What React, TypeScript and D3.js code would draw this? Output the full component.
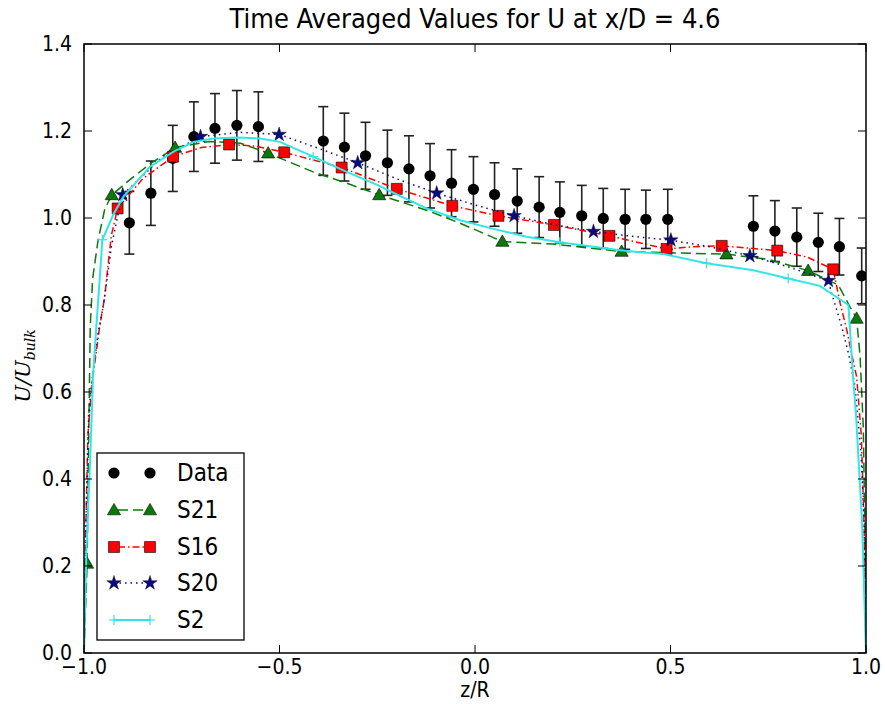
import React from "react";
import * as d3 from "d3";

const W = 885;
const H = 704;

// Experimental data
const dataZ = [-0.884, -0.829, -0.773, -0.719, -0.665, -0.609, -0.554, -0.388, -0.334, -0.280, -0.224, -0.169, -0.115, -0.060, -0.004, 0.050, 0.108, 0.164, 0.217, 0.273, 0.328, 0.384, 0.437, 0.493, 0.712, 0.767, 0.823, 0.878, 0.932, 0.989];
const dataU = [0.989, 1.057, 1.137, 1.187, 1.206, 1.213, 1.210, 1.177, 1.163, 1.143, 1.127, 1.113, 1.097, 1.080, 1.066, 1.054, 1.039, 1.025, 1.013, 1.005, 0.999, 0.997, 0.997, 0.997, 0.981, 0.970, 0.956, 0.944, 0.934, 0.867];
const dataErr = [0.072, 0.074, 0.076, 0.080, 0.080, 0.080, 0.080, 0.079, 0.078, 0.077, 0.075, 0.076, 0.074, 0.077, 0.075, 0.073, 0.074, 0.070, 0.070, 0.070, 0.069, 0.069, 0.067, 0.069, 0.070, 0.070, 0.067, 0.067, 0.065, 0.064];

// S21 (green dashed, triangles)
const s21Line: [number, number][] = [[-1, 0], [-0.992, 0.206], [-0.988, 0.5], [-0.984, 0.75], [-0.978, 0.86], [-0.964, 0.949], [-0.947, 1.02], [-0.929, 1.053], [-0.88, 1.09], [-0.83, 1.125], [-0.767, 1.162], [-0.68, 1.176], [-0.6, 1.172], [-0.529, 1.149], [-0.414, 1.106], [-0.328, 1.08], [-0.245, 1.053], [-0.124, 1.018], [-0.038, 0.988], [0.07, 0.946], [0.2, 0.94], [0.375, 0.923], [0.5, 0.92], [0.643, 0.917], [0.75, 0.905], [0.852, 0.879], [0.929, 0.846], [0.959, 0.796], [0.976, 0.769], [0.985, 0.68], [0.993, 0.52], [0.997, 0.3], [1, 0]];
const s21Markers: [number, number][] = [[-0.992, 0.206], [-0.929, 1.053], [-0.767, 1.162], [-0.529, 1.149], [-0.245, 1.053], [0.07, 0.946], [0.375, 0.923], [0.643, 0.917], [0.852, 0.879], [0.976, 0.769]];

// S16 (red dash-dot, squares)
const s16Line: [number, number][] = [[-1, 0], [-0.995, 0.3], [-0.99, 0.5], [-0.98, 0.62], [-0.969, 0.689], [-0.96, 0.75], [-0.947, 0.819], [-0.939, 0.888], [-0.93, 0.96], [-0.914, 1.022], [-0.85, 1.09], [-0.772, 1.141], [-0.7, 1.162], [-0.629, 1.169], [-0.56, 1.165], [-0.488, 1.151], [-0.341, 1.116], [-0.2, 1.067], [-0.058, 1.028], [0.06, 1.005], [0.202, 0.984], [0.344, 0.959], [0.42, 0.943], [0.49, 0.929], [0.56, 0.934], [0.631, 0.936], [0.773, 0.925], [0.85, 0.91], [0.916, 0.882], [0.934, 0.804], [0.951, 0.742], [0.963, 0.689], [0.976, 0.635], [0.988, 0.5], [0.995, 0.3], [1, 0]];
const s16Markers: [number, number][] = [[-0.914, 1.022], [-0.772, 1.141], [-0.629, 1.169], [-0.488, 1.151], [-0.341, 1.116], [-0.2, 1.067], [-0.058, 1.028], [0.06, 1.005], [0.202, 0.984], [0.344, 0.959], [0.49, 0.929], [0.631, 0.936], [0.773, 0.925], [0.916, 0.882]];

// S20 (navy dotted, stars)
const s20Line: [number, number][] = [[-1, 0], [-0.995, 0.3], [-0.988, 0.55], [-0.978, 0.64], [-0.964, 0.735], [-0.951, 0.796], [-0.939, 0.873], [-0.93, 0.934], [-0.915, 1.0], [-0.901, 1.053], [-0.8, 1.14], [-0.702, 1.187], [-0.6, 1.197], [-0.501, 1.192], [-0.4, 1.16], [-0.3, 1.127], [-0.2, 1.09], [-0.098, 1.057], [0.0, 1.03], [0.1, 1.005], [0.2, 0.985], [0.303, 0.969], [0.4, 0.958], [0.501, 0.949], [0.6, 0.934], [0.703, 0.913], [0.8, 0.888], [0.904, 0.856], [0.912, 0.827], [0.925, 0.789], [0.938, 0.75], [0.955, 0.689], [0.972, 0.612], [0.988, 0.45], [0.995, 0.3], [1, 0]];
const s20Markers: [number, number][] = [[-0.901, 1.053], [-0.702, 1.187], [-0.501, 1.192], [-0.3, 1.127], [-0.098, 1.057], [0.1, 1.005], [0.303, 0.969], [0.501, 0.949], [0.703, 0.913], [0.904, 0.856]];

// S2 (cyan solid, plus)
const s2Line: [number, number][] = [[-1, 0], [-0.994, 0.229], [-0.984, 0.45], [-0.977, 0.635], [-0.969, 0.743], [-0.96, 0.857], [-0.953, 0.95], [-0.925, 1.008], [-0.899, 1.049], [-0.831, 1.118], [-0.772, 1.152], [-0.72, 1.175], [-0.669, 1.183], [-0.609, 1.185], [-0.55, 1.183], [-0.499, 1.175], [-0.414, 1.141], [-0.328, 1.106], [-0.247, 1.075], [-0.209, 1.058], [-0.124, 1.022], [-0.038, 0.995], [0.047, 0.975], [0.132, 0.957], [0.217, 0.944], [0.303, 0.934], [0.371, 0.926], [0.422, 0.921], [0.482, 0.917], [0.592, 0.896], [0.712, 0.88], [0.801, 0.861], [0.882, 0.844], [0.955, 0.8], [0.965, 0.66], [0.975, 0.54], [0.99, 0.3], [1, 0]];
const s2Markers: [number, number][] = [[-0.953, 0.95], [-0.414, 1.141], [0.217, 0.944], [0.592, 0.896], [0.801, 0.861]];

const xTicks = [-1.0, -0.5, 0.0, 0.5, 1.0];
const yTicks = [0.0, 0.2, 0.4, 0.6, 0.8, 1.0, 1.2, 1.4];
const legendLabels = ["Data", "S21", "S16", "S20", "S2"];

const FONT = '"DejaVu Sans Condensed", "DejaVu Sans", sans-serif';

const C_GREEN = "#0a7a0a";
const C_RED = "#ff0000";
const C_NAVY = "#0a0a80";
const C_CYAN = "#30e6e6";

const L = 84, R = 866, T = 44, B = 653;

export default function App() {
  const x = d3.scaleLinear().domain([-1, 1]).range([L, R]);
  const y = d3.scaleLinear().domain([0, 1.4]).range([B, T]);
  const line = d3.line<[number, number]>().x((d) => x(d[0])).y((d) => y(d[1]));

  const tri = d3.symbol().type(d3.symbolTriangle).size(75)()!;
  const sq = d3.symbol().type(d3.symbolSquare).size(120)()!;
  const star = d3.symbol().type(d3.symbolStar).size(65)()!;

  const tick = 8;
  const fmt = d3.format(".1f");

  const legendRows = [473, 510, 547, 583, 620];
  const lx1 = 114, lx2 = 150;

  const plus = (cx: number, cy: number, key: string | number) => (
    <g key={key} stroke={C_CYAN} strokeWidth={1.2}>
      <line x1={cx - 5} x2={cx + 5} y1={cy} y2={cy} />
      <line x1={cx} x2={cx} y1={cy - 5} y2={cy + 5} />
    </g>
  );

  return (
    <div style={{ position: "absolute", left: 0, top: 0 }}>
      <svg width={W} height={H} style={{ display: "block", background: "#fff" }}>
        <defs>
          <clipPath id="plotclip">
            <rect x={L} y={T} width={R - L} height={B - T} />
          </clipPath>
        </defs>
        <rect x={0} y={0} width={W} height={H} fill="#fff" />

        <g clipPath="url(#plotclip)">
          {/* Error bars */}
          {dataZ.map((z, i) => {
            const cx = x(z);
            const y1 = y(dataU[i] + dataErr[i]);
            const y2 = y(dataU[i] - dataErr[i]);
            return (
              <g key={"e" + i} stroke="#222" strokeWidth={1.6}>
                <line x1={cx} x2={cx} y1={y1} y2={y2} />
                <line x1={cx - 5} x2={cx + 5} y1={y1} y2={y1} />
                <line x1={cx - 5} x2={cx + 5} y1={y2} y2={y2} />
              </g>
            );
          })}
          {dataZ.map((z, i) => (
            <circle key={"d" + i} cx={x(z)} cy={y(dataU[i])} r={5.6} fill="#000" />
          ))}

          {/* S21 */}
          <path d={line(s21Line)!} fill="none" stroke={C_GREEN} strokeWidth={1.5} strokeDasharray="10,5" />
          {s21Markers.map((p, i) => (
            <path key={"t" + i} d={tri} transform={`translate(${x(p[0])},${y(p[1]) + 1})`} fill={C_GREEN} stroke="#000" strokeWidth={0.6} />
          ))}

          {/* S16 */}
          <path d={line(s16Line)!} fill="none" stroke={C_RED} strokeWidth={1.5} strokeDasharray="7,3,1.5,3" />
          {s16Markers.map((p, i) => (
            <path key={"s" + i} d={sq} transform={`translate(${x(p[0])},${y(p[1])})`} fill={C_RED} stroke="#000" strokeWidth={0.6} />
          ))}

          {/* S20 */}
          <path d={line(s20Line)!} fill="none" stroke={C_NAVY} strokeWidth={1.5} strokeDasharray="1.5,4" />
          {s20Markers.map((p, i) => (
            <path key={"st" + i} d={star} transform={`translate(${x(p[0])},${y(p[1])})`} fill={C_NAVY} stroke="#000" strokeWidth={0.4} />
          ))}

          {/* S2 */}
          <path d={line(s2Line)!} fill="none" stroke={C_CYAN} strokeWidth={2} />
          {s2Markers.map((p, i) => plus(x(p[0]), y(p[1]), "p" + i))}
        </g>

        {/* Frame */}
        <rect x={L} y={T} width={R - L} height={B - T} fill="none" stroke="#000" strokeWidth={1.5} />

        {/* Ticks */}
        {xTicks.map((t, i) => (
          <g key={"xt" + i} stroke="#000" strokeWidth={1}>
            <line x1={x(t)} x2={x(t)} y1={B} y2={B - tick} />
            <line x1={x(t)} x2={x(t)} y1={T} y2={T + tick} />
          </g>
        ))}
        {yTicks.map((t, i) => (
          <g key={"yt" + i} stroke="#000" strokeWidth={1}>
            <line x1={L} x2={L + tick} y1={y(t)} y2={y(t)} />
            <line x1={R} x2={R - tick} y1={y(t)} y2={y(t)} />
          </g>
        ))}

        {/* Tick labels */}
        {xTicks.map((t, i) => (
          <text key={"xl" + i} x={x(t)} y={B + 21} textAnchor="middle" fontFamily={FONT} fontSize={21} fill="#000">
            {fmt(t).replace("-", "\u2212")}
          </text>
        ))}
        {yTicks.map((t, i) => (
          <text key={"yl" + i} x={L - 12} y={y(t) + 7} textAnchor="end" fontFamily={FONT} fontSize={21} fill="#000">
            {fmt(t)}
          </text>
        ))}

        {/* Title */}
        <text x={(L + R) / 2} y={28} textAnchor="middle" fontFamily={FONT} fontSize={27} fill="#000">
          Time Averaged Values for U at x/D = 4.6
        </text>

        {/* Axis labels */}
        <text x={(L + R) / 2} y={697} textAnchor="middle" fontFamily={FONT} fontSize={21} fill="#000">
          z/R
        </text>
        <text transform={`translate(30,366) rotate(-90)`} textAnchor="middle" fontFamily='"DejaVu Serif", "Liberation Serif", serif' fontStyle="italic" fontSize={21} fill="#000">
          U/U
          <tspan fontSize={14} dy={5}>bulk</tspan>
        </text>

        {/* Legend */}
        <rect x={97} y={453} width={147} height={187} fill="#fff" stroke="#000" strokeWidth={1.3} />
        {legendLabels.map((lab, i) => (
          <text key={"lt" + i} x={177} y={legendRows[i] + 8} fontFamily={FONT} fontSize={24} fill="#000">
            {lab}
          </text>
        ))}
        {/* Data */}
        <circle cx={lx1} cy={legendRows[0]} r={5.6} fill="#000" />
        <circle cx={lx2} cy={legendRows[0]} r={5.6} fill="#000" />
        {/* S21 */}
        <line x1={lx1} x2={lx2} y1={legendRows[1]} y2={legendRows[1]} stroke={C_GREEN} strokeWidth={1.5} strokeDasharray="10,5" strokeDashoffset={-4} />
        <path d={tri} transform={`translate(${lx1},${legendRows[1] + 1})`} fill={C_GREEN} stroke="#000" strokeWidth={0.6} />
        <path d={tri} transform={`translate(${lx2},${legendRows[1] + 1})`} fill={C_GREEN} stroke="#000" strokeWidth={0.6} />
        {/* S16 */}
        <line x1={lx1} x2={lx2} y1={legendRows[2]} y2={legendRows[2]} stroke={C_RED} strokeWidth={1.5} strokeDasharray="7,3,1.5,3" strokeDashoffset={-4} />
        <path d={sq} transform={`translate(${lx1},${legendRows[2]})`} fill={C_RED} stroke="#000" strokeWidth={0.6} />
        <path d={sq} transform={`translate(${lx2},${legendRows[2]})`} fill={C_RED} stroke="#000" strokeWidth={0.6} />
        {/* S20 */}
        <line x1={lx1} x2={lx2} y1={legendRows[3]} y2={legendRows[3]} stroke={C_NAVY} strokeWidth={1.5} strokeDasharray="1.5,4" />
        <path d={star} transform={`translate(${lx1},${legendRows[3]})`} fill={C_NAVY} stroke="#000" strokeWidth={0.4} />
        <path d={star} transform={`translate(${lx2},${legendRows[3]})`} fill={C_NAVY} stroke="#000" strokeWidth={0.4} />
        {/* S2 */}
        <line x1={lx1} x2={lx2} y1={legendRows[4]} y2={legendRows[4]} stroke={C_CYAN} strokeWidth={2} />
        {plus(lx1, legendRows[4], "lp1")}
        {plus(lx2, legendRows[4], "lp2")}
      </svg>
    </div>
  );
}
